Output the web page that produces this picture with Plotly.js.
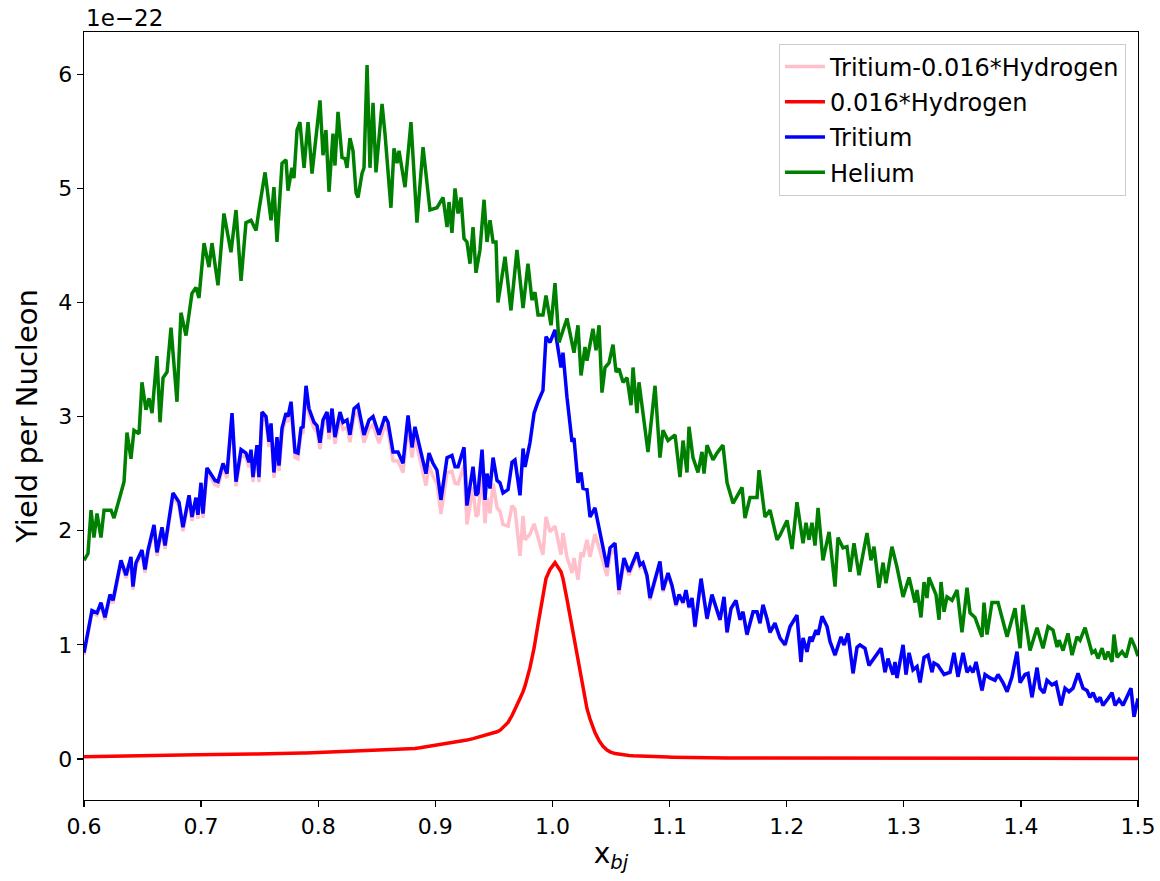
<!DOCTYPE html>
<html>
<head>
<meta charset="utf-8">
<script src="https://cdn.plot.ly/plotly-3.0.1.min.js"></script>
<style>
  html, body { margin: 0; padding: 0; background: #ffffff; }
  #chart { width: 1160px; height: 881px; }
</style>
</head>
<body>
<div id="chart"></div>
<script>
// Yields per nucleon, in units of 1e-22, against Bjorken x.

// Tritium target: x positions and yield
const tritiumX = [
  0.6000,0.6043,0.6068,0.6111,0.6145,0.6179,0.6222,0.6248,0.6316,0.6359,
  0.6401,0.6418,0.6444,0.6495,0.6521,0.6547,0.6598,0.6623,0.6666,0.6692,
  0.6760,0.6811,0.6845,0.6897,0.6922,0.6956,0.6973,0.6999,0.7016,0.7050,
  0.7084,0.7119,0.7144,0.7187,0.7221,0.7264,0.7298,0.7341,0.7383,0.7409,
  0.7426,0.7443,0.7477,0.7494,0.7520,0.7554,0.7580,0.7597,0.7622,0.7648,
  0.7665,0.7691,0.7725,0.7742,0.7768,0.7802,0.7827,0.7853,0.7870,0.7896,
  0.7921,0.7964,0.7990,0.8015,0.8041,0.8075,0.8092,0.8118,0.8143,0.8186,
  0.8212,0.8246,0.8271,0.8306,0.8340,0.8391,0.8434,0.8468,0.8519,0.8570,
  0.8596,0.8639,0.8681,0.8724,0.8767,0.8801,0.8826,0.8869,0.8920,0.8946,
  0.8980,0.9014,0.9048,0.9100,0.9142,0.9168,0.9194,0.9245,0.9270,0.9322,
  0.9347,0.9364,0.9399,0.9424,0.9441,0.9467,0.9493,0.9527,0.9552,0.9578,
  0.9621,0.9655,0.9680,0.9723,0.9749,0.9766,0.9808,0.9843,0.9877,0.9919,
  0.9945,0.9979,1.0022,1.0073,1.0090,1.0124,1.0167,1.0184,1.0218,1.0244,
  1.0261,1.0295,1.0321,1.0363,1.0398,1.0432,1.0466,1.0492,1.0534,1.0568,
  1.0611,1.0654,1.0688,1.0722,1.0748,1.0773,1.0807,1.0833,1.0867,1.0918,
  1.0944,1.0987,1.1021,1.1055,1.1081,1.1115,1.1140,1.1166,1.1192,1.1217,
  1.1269,1.1320,1.1362,1.1431,1.1465,1.1491,1.1525,1.1567,1.1602,1.1627,
  1.1661,1.1713,1.1747,1.1772,1.1798,1.1832,1.1858,1.1900,1.1943,1.1986,
  1.2029,1.2071,1.2088,1.2122,1.2140,1.2174,1.2199,1.2216,1.2251,1.2268,
  1.2302,1.2345,1.2370,1.2413,1.2464,1.2490,1.2524,1.2567,1.2601,1.2626,
  1.2669,1.2703,1.2754,1.2806,1.2840,1.2865,1.2908,1.2925,1.2942,1.2994,
  1.3019,1.3045,1.3079,1.3113,1.3139,1.3173,1.3207,1.3241,1.3258,1.3292,
  1.3344,1.3395,1.3429,1.3463,1.3506,1.3540,1.3566,1.3591,1.3617,1.3668,
  1.3694,1.3736,1.3779,1.3805,1.3847,1.3882,1.3924,1.3967,1.3993,1.4035,
  1.4061,1.4095,1.4138,1.4163,1.4197,1.4223,1.4266,1.4300,1.4343,1.4377,
  1.4411,1.4445,1.4488,1.4530,1.4565,1.4590,1.4616,1.4650,1.4676,1.4701,
  1.4744,1.4778,1.4804,1.4838,1.4872,1.4906,1.4940,1.4966,1.5000
];

const tritiumYield = [
  0.93,1.18,1.30,1.28,1.37,1.24,1.44,1.39,1.74,1.61,
  1.77,1.51,1.72,1.83,1.66,1.83,2.05,1.81,2.03,1.87,
  2.33,2.25,2.03,2.31,2.12,2.29,2.14,2.42,2.15,2.55,
  2.50,2.44,2.43,2.59,2.50,3.03,2.43,2.71,2.68,2.60,
  2.71,2.47,2.75,2.47,3.04,3.00,2.78,2.94,2.51,2.82,
  2.57,2.90,3.03,3.00,3.13,2.69,2.68,2.90,2.91,3.27,
  3.07,2.95,2.92,2.77,2.97,3.04,2.86,3.07,2.82,3.04,
  2.95,2.97,2.84,3.07,3.10,2.84,2.97,3.00,2.84,3.00,
  2.95,2.69,2.69,2.59,3.01,2.73,2.91,2.71,2.50,2.68,
  2.59,2.53,2.27,2.64,2.66,2.56,2.56,2.73,2.22,2.56,
  2.31,2.33,2.71,2.27,2.50,2.37,2.64,2.44,2.42,2.33,
  2.36,2.60,2.62,2.31,2.72,2.56,2.77,3.03,3.13,3.23,
  3.70,3.65,3.76,3.43,3.56,3.17,2.78,2.81,2.42,2.51,
  2.37,2.36,2.12,2.20,2.01,1.83,1.68,1.85,1.89,1.48,
  1.76,1.64,1.72,1.81,1.70,1.72,1.61,1.41,1.54,1.73,
  1.48,1.63,1.52,1.35,1.44,1.37,1.48,1.33,1.41,1.16,
  1.58,1.23,1.44,1.22,1.42,1.11,1.32,1.39,1.22,1.29,
  1.09,1.29,1.29,1.19,1.35,1.23,1.11,1.19,1.06,1.00,
  1.16,1.24,1.26,0.85,1.06,0.94,1.07,1.03,1.13,1.09,
  1.25,1.16,1.03,0.91,1.07,1.00,1.10,0.75,0.98,1.00,
  0.97,0.82,0.89,0.97,0.76,0.88,0.74,0.85,0.71,1.00,
  0.74,0.93,0.78,0.81,0.67,0.89,0.91,0.76,0.84,0.82,
  0.74,0.76,0.93,0.72,0.93,0.76,0.80,0.76,0.85,0.60,
  0.74,0.71,0.69,0.74,0.67,0.59,0.72,0.94,0.67,0.74,
  0.75,0.54,0.80,0.62,0.58,0.69,0.65,0.67,0.47,0.62,
  0.59,0.62,0.75,0.62,0.60,0.54,0.58,0.50,0.54,0.47,
  0.53,0.58,0.47,0.52,0.47,0.54,0.62,0.37,0.53
];

// Hydrogen yield scaled by 0.016, on the same x positions as tritium
const hydrogenScaled = [
  0.020,0.021,0.021,0.022,0.022,0.023,0.024,0.024,0.025,0.026,
  0.027,0.027,0.027,0.028,0.028,0.029,0.030,0.030,0.031,0.031,
  0.032,0.033,0.034,0.035,0.035,0.036,0.036,0.036,0.037,0.037,
  0.038,0.038,0.039,0.039,0.040,0.041,0.041,0.042,0.042,0.043,
  0.043,0.043,0.044,0.044,0.045,0.045,0.046,0.046,0.046,0.047,
  0.047,0.047,0.048,0.048,0.049,0.049,0.050,0.050,0.051,0.052,
  0.053,0.054,0.055,0.056,0.057,0.058,0.059,0.060,0.060,0.062,
  0.063,0.064,0.065,0.066,0.067,0.069,0.071,0.072,0.074,0.075,
  0.076,0.078,0.079,0.081,0.085,0.089,0.092,0.097,0.105,0.108,
  0.113,0.118,0.124,0.132,0.140,0.145,0.150,0.160,0.165,0.178,
  0.185,0.190,0.198,0.205,0.210,0.218,0.226,0.238,0.250,0.275,
  0.320,0.380,0.430,0.530,0.590,0.640,0.800,0.970,1.180,1.440,
  1.580,1.660,1.720,1.640,1.580,1.400,1.150,1.050,0.850,0.700,
  0.600,0.440,0.350,0.230,0.160,0.110,0.078,0.062,0.047,0.040,
  0.034,0.030,0.027,0.025,0.023,0.022,0.021,0.020,0.019,0.018,
  0.017,0.016,0.015,0.014,0.013,0.012,0.012,0.011,0.011,0.010,
  0.010,0.010,0.009,0.009,0.009,0.009,0.009,0.009,0.009,0.008,
  0.008,0.008,0.008,0.008,0.008,0.008,0.008,0.008,0.008,0.008,
  0.008,0.008,0.008,0.008,0.008,0.008,0.008,0.008,0.008,0.008,
  0.007,0.007,0.007,0.007,0.007,0.007,0.007,0.007,0.007,0.007,
  0.007,0.007,0.007,0.007,0.007,0.007,0.007,0.007,0.007,0.007,
  0.006,0.006,0.006,0.006,0.006,0.006,0.006,0.006,0.006,0.006,
  0.006,0.006,0.006,0.006,0.006,0.006,0.006,0.006,0.006,0.006,
  0.005,0.005,0.005,0.005,0.005,0.005,0.005,0.005,0.005,0.005,
  0.005,0.005,0.005,0.005,0.005,0.005,0.005,0.005,0.005,0.005,
  0.005,0.005,0.005,0.005,0.005,0.005,0.005,0.005,0.005,0.005,
  0.004,0.004,0.004,0.004,0.004,0.004,0.004,0.004,0.004
];

// Helium target: x positions and yield
const heliumX = [
  0.6000,0.6034,0.6060,0.6085,0.6111,0.6145,0.6171,0.6231,0.6256,0.6316,
  0.6342,0.6367,0.6401,0.6427,0.6470,0.6495,0.6529,0.6555,0.6581,0.6623,
  0.6649,0.6675,0.6709,0.6743,0.6794,0.6828,0.6871,0.6922,0.6956,0.6982,
  0.7025,0.7067,0.7093,0.7144,0.7195,0.7255,0.7298,0.7341,0.7383,0.7426,
  0.7469,0.7494,0.7546,0.7597,0.7622,0.7648,0.7691,0.7725,0.7742,0.7776,
  0.7793,0.7819,0.7844,0.7879,0.7913,0.7947,0.8015,0.8041,0.8066,0.8092,
  0.8126,0.8143,0.8169,0.8203,0.8229,0.8246,0.8271,0.8297,0.8323,0.8340,
  0.8374,0.8391,0.8417,0.8442,0.8468,0.8493,0.8545,0.8570,0.8621,0.8647,
  0.8673,0.8690,0.8741,0.8792,0.8843,0.8895,0.8954,0.9014,0.9066,0.9100,
  0.9117,0.9142,0.9168,0.9194,0.9219,0.9245,0.9270,0.9296,0.9322,0.9347,
  0.9381,0.9416,0.9441,0.9467,0.9493,0.9518,0.9535,0.9595,0.9646,0.9697,
  0.9749,0.9791,0.9825,0.9851,0.9877,0.9919,0.9945,0.9988,1.0022,1.0056,
  1.0124,1.0184,1.0218,1.0244,1.0278,1.0295,1.0346,1.0372,1.0398,1.0423,
  1.0449,1.0483,1.0517,1.0543,1.0568,1.0603,1.0637,1.0671,1.0688,1.0722,
  1.0739,1.0816,1.0876,1.0918,1.0944,1.0987,1.1047,1.1089,1.1115,1.1149,
  1.1166,1.1200,1.1243,1.1277,1.1294,1.1320,1.1371,1.1405,1.1456,1.1491,
  1.1542,1.1619,1.1644,1.1687,1.1747,1.1764,1.1815,1.1858,1.1918,1.1943,
  1.2003,1.2046,1.2088,1.2140,1.2165,1.2191,1.2216,1.2242,1.2268,1.2310,
  1.2362,1.2413,1.2438,1.2481,1.2515,1.2541,1.2575,1.2618,1.2686,1.2720,
  1.2746,1.2788,1.2823,1.2848,1.2899,1.2942,1.2994,1.3045,1.3096,1.3113,
  1.3147,1.3173,1.3198,1.3215,1.3275,1.3301,1.3318,1.3344,1.3369,1.3412,
  1.3455,1.3497,1.3540,1.3566,1.3608,1.3668,1.3685,1.3711,1.3753,1.3805,
  1.3882,1.3950,1.3993,1.4018,1.4078,1.4138,1.4163,1.4189,1.4232,1.4274,
  1.4309,1.4326,1.4360,1.4402,1.4437,1.4479,1.4505,1.4548,1.4607,1.4633,
  1.4659,1.4693,1.4719,1.4744,1.4778,1.4795,1.4821,1.4864,1.4898,1.4940,
  1.4974,1.5000
];

const heliumYield = [
  1.74,1.80,2.18,1.94,2.15,1.94,2.18,2.18,2.11,2.33,
  2.43,2.86,2.63,2.88,2.85,3.30,3.06,3.16,3.03,3.53,
  2.95,3.34,3.39,3.78,3.13,3.91,3.71,4.08,4.13,4.04,
  4.52,4.31,4.52,4.15,4.78,4.44,4.81,4.19,4.70,4.72,
  4.63,4.81,5.14,4.72,5.01,4.53,5.22,5.25,4.98,5.18,
  5.09,5.51,5.58,5.18,5.58,5.13,5.77,5.29,5.51,4.97,
  5.48,5.20,5.67,5.27,5.26,5.18,5.44,5.33,4.96,4.92,
  5.13,5.18,6.08,5.18,5.75,5.14,5.74,5.48,4.83,5.35,
  5.22,5.33,5.01,5.58,4.70,5.36,4.81,4.83,4.92,4.66,
  4.88,4.61,5.00,4.78,4.92,4.56,4.53,4.34,4.66,4.26,
  4.46,4.90,4.53,4.72,4.53,4.53,4.00,4.40,3.93,4.46,
  3.95,4.34,4.02,4.09,3.89,3.89,4.06,3.80,4.17,3.65,
  3.86,3.56,3.80,3.36,3.61,3.49,3.77,3.58,3.80,3.21,
  3.43,3.47,3.63,3.39,3.42,3.30,3.34,3.10,3.43,3.03,
  3.30,2.69,3.27,2.64,2.88,2.79,2.84,2.47,2.79,2.51,
  2.91,2.64,2.51,2.69,2.50,2.75,2.62,2.68,2.75,2.42,
  2.24,2.38,2.11,2.29,2.29,2.53,2.12,2.18,1.92,1.96,
  2.09,1.84,2.25,1.89,2.07,1.92,2.07,1.87,2.20,1.74,
  1.99,1.51,1.94,1.85,1.86,1.64,1.89,1.61,1.98,1.74,
  1.86,1.50,1.72,1.54,1.86,1.68,1.42,1.59,1.37,1.48,
  1.24,1.55,1.41,1.59,1.44,1.22,1.55,1.29,1.42,1.39,
  1.48,1.11,1.50,1.28,1.24,1.07,1.37,1.09,1.37,1.37,
  1.07,1.32,0.97,1.35,0.95,1.15,1.07,0.97,1.16,1.13,
  0.98,1.04,0.95,1.10,0.91,1.07,1.04,1.15,0.93,0.95,
  0.88,0.97,0.87,0.94,0.85,1.09,0.89,0.94,0.89,1.06,
  0.98,0.90
];

// Tritium with the scaled hydrogen contribution removed
const tritiumMinusHydrogen = tritiumYield.map((v, i) => +(v - hydrogenScaled[i]).toFixed(3));

const seriesNames = ['Tritium-0.016*Hydrogen', '0.016*Hydrogen', 'Tritium', 'Helium'];
const seriesColors = ['#ffc0cb', '#ff0000', '#0000ff', '#008000'];

const lineWidth = 3.5;
const traces = [
  { x: tritiumX, y: tritiumMinusHydrogen },
  { x: tritiumX, y: hydrogenScaled },
  { x: tritiumX, y: tritiumYield },
  { x: heliumX, y: heliumYield }
].map((s, i) => ({
  type: 'scatter',
  mode: 'lines',
  x: s.x,
  y: s.y,
  name: seriesNames[i],
  legendgroup: 'g' + i,
  line: { color: seriesColors[i], width: lineWidth },
  hoverinfo: 'skip'
}));

const axisStyle = {
  showline: true,
  mirror: true,
  linecolor: '#000000',
  linewidth: 1.3,
  ticks: 'outside',
  ticklen: 6,
  tickwidth: 1.3,
  tickcolor: '#000000',
  showgrid: false,
  zeroline: false,
  tickfont: { size: 22 }
};

const layout = {
  width: 1160,
  height: 881,
  margin: { l: 84, r: 22, t: 32, b: 81 },
  paper_bgcolor: '#ffffff',
  plot_bgcolor: '#ffffff',
  font: { family: 'DejaVu Sans, sans-serif', size: 22, color: '#000000' },
  showlegend: true,
  xaxis: Object.assign({}, axisStyle, {
    range: [0.6, 1.5],
    tick0: 0.6,
    dtick: 0.1,
    tickformat: '.1f',
    title: { text: 'x<sub><i>bj</i></sub>', font: { size: 28 }, standoff: 5 }
  }),
  yaxis: Object.assign({}, axisStyle, {
    range: [-0.36, 6.37],
    tick0: 0,
    dtick: 1,
    title: { text: 'Yield per Nucleon', font: { size: 29 }, standoff: 12 }
  }),
  legend: {
    x: 0.9886,
    y: 0.985,
    xanchor: 'right',
    yanchor: 'top',
    bgcolor: '#ffffff',
    bordercolor: '#cccccc',
    borderwidth: 1,
    font: { size: 24 },
    traceorder: 'grouped',
    tracegroupgap: 1,
    itemwidth: 40
  },
  annotations: [{
    text: '1e\u221222',
    xref: 'paper', yref: 'paper',
    x: 0, y: 1,
    xanchor: 'left', yanchor: 'bottom',
    showarrow: false,
    font: { size: 23 },
    yshift: -1
  }]
};

Plotly.newPlot('chart', traces, layout, { displayModeBar: false, staticPlot: true });
</script>
</body>
</html>
